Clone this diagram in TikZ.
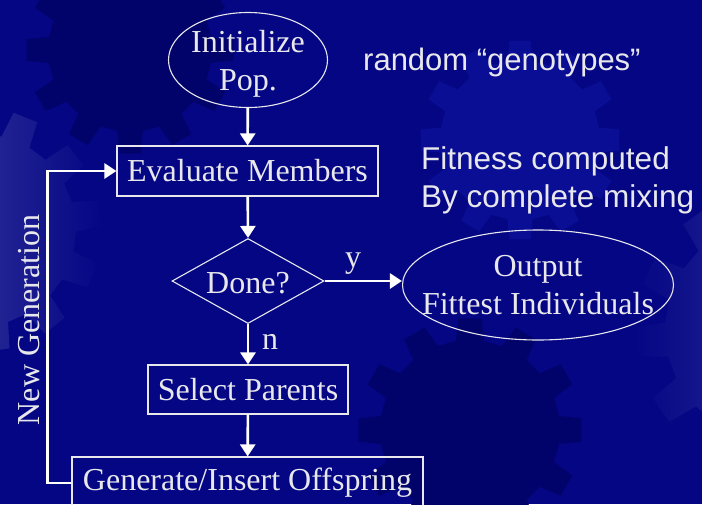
\documentclass[tikz,border=0pt]{standalone}
\usepackage{fontspec}
\setmainfont{Liberation Serif}
\newfontfamily\sansf{Liberation Sans}
\usetikzlibrary{shapes.geometric,arrows.meta}
\definecolor{navy}{RGB}{4,6,132}
\definecolor{darkg}{RGB}{2,3,106}
\definecolor{midg}{RGB}{10,14,148}
\definecolor{lightg}{RGB}{72,72,165}
\definecolor{txt}{RGB}{232,232,236}
\newcommand{\mygear}[4]{%
  \path[#4] (-9:#2) \foreach \a in {0,30,...,330} { -- (\a-9:#2) -- (\a-6:#3) -- (\a+6:#3) -- (\a+9:#2) -- (\a+21:#2) } -- cycle;}
\tikzset{
  box/.style={draw=txt, line width=1.1pt, rectangle, inner sep=0pt, text=txt},
  oval/.style={draw=txt, line width=1.1pt, ellipse, inner sep=0pt},
  lbl/.style={text=txt, inner sep=0pt, align=center},
  arr/.style={draw=white, line width=2.6pt, -{Triangle[length=12pt,width=15pt]}},
}
\begin{document}
\begin{tikzpicture}[x=1pt,y=-1pt, font=\fontsize{32}{38}\selectfont]
\useasboundingbox (0,0) rectangle (702,504);
\clip (0,0) rectangle (702,504);
\fill[navy] (0,0) rectangle (702,504);
% background gears
\begin{scope}[shift={(130,50)}]\mygear{0}{82}{104}{fill=darkg}\end{scope}
\begin{scope}[shift={(520,140)}]\mygear{0}{80}{100}{fill=midg}\end{scope}
\begin{scope}[shift={(470,430)}]\mygear{0}{90}{112}{fill=darkg}\end{scope}
\begin{scope}[shift={(-20,230)},rotate=8]\mygear{0}{96}{122}{left color=lightg,right color=navy}\end{scope}
\begin{scope}[shift={(775,330)},rotate=5]\mygear{0}{110}{140}{left color=navy,right color=lightg}\end{scope}
% nodes
\node[oval, minimum width=159, minimum height=95] (init) at (248,60) {};
\node[lbl] (initt) at (248,64) {Initialize\\Pop.};
\node[box, minimum width=261, minimum height=50] (eval) at (247.5,171) {\raisebox{-2pt}{Evaluate Members}};
\node[draw=txt, line width=1.1pt, diamond, inner sep=0pt, minimum width=152, minimum height=85] (done) at (248,281) {};
\node[lbl] (donet) at (248,283) {Done?};
\node[oval, minimum width=271, minimum height=110] (out) at (538,285) {};
\node[lbl] (outt) at (538,285) {Output\\Fittest Individuals};
\node[box, minimum width=200, minimum height=49] (sel) at (248,389.5) {\raisebox{-2pt}{Select Parents}};
\node[box, minimum width=351, minimum height=52] (gen) at (247.5,483) {\raisebox{-3pt}{Generate/Insert Offspring}};
\node[lbl, rotate=90] (newgen) at (29,320) {New Generation};
\node[lbl] (ylab) at (353,264) {y};
\node[lbl] (nlab) at (270,342) {n};
\node[lbl, anchor=west, font=\sansf\fontsize{31}{37}\selectfont] (rand) at (363,62) {random “genotypes”};
\node[lbl, anchor=west, align=left, font=\sansf\fontsize{31.5}{38}\selectfont] (fit) at (421,180) {Fitness computed\\By complete mixing};
% connectors
\draw[arr] (init) -- (eval);
\draw[arr] (eval) -- (done.north);
\draw[arr] (done.east) -- (done.east -| out.west);
\draw[arr] (done.south) -- (sel);
\draw[arr] (sel) -- (gen);
\draw[arr] (gen.west) -- ++(-24,0) |- (eval.west);
\end{tikzpicture}
\end{document}
